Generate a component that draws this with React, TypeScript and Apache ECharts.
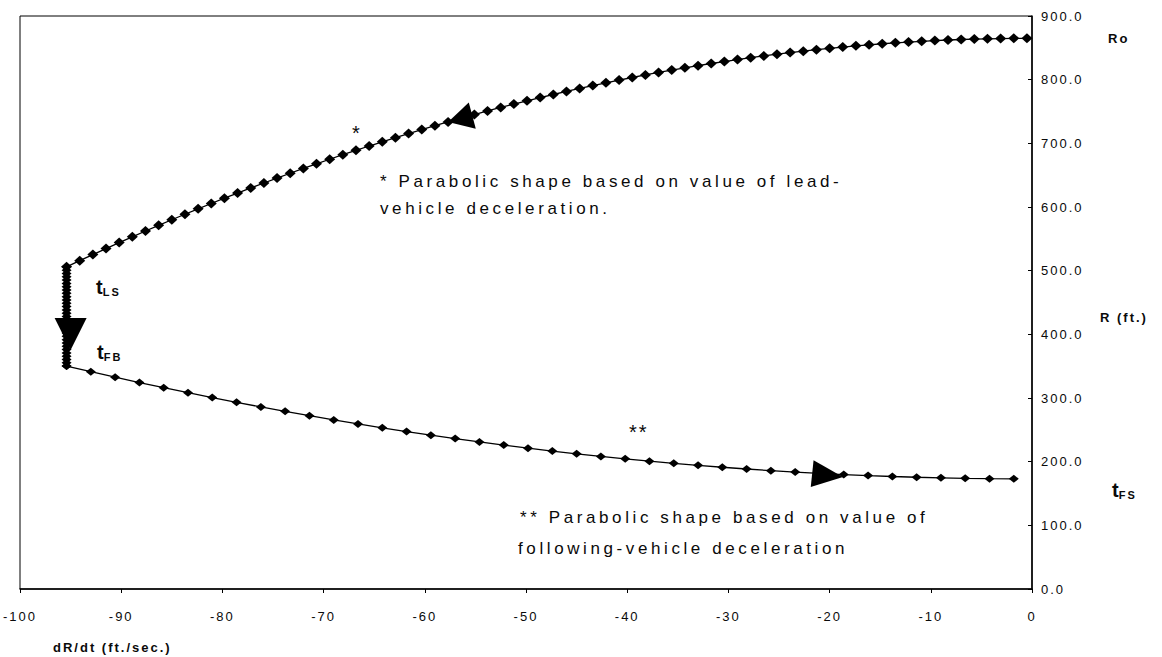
import React, { useEffect, useRef } from "react";
import * as echarts from "echarts";

const W = 1162;
const H = 657;

// Relative velocity dR/dt (ft./sec.) and range R (ft.)
const leadX = [-95.4,-94.1,-92.8,-91.5,-90.2,-88.9,-87.6,-86.3,-85.0,-83.7,-82.4,-81.1,-79.8,-78.5,-77.2,-75.9,-74.6,-73.3,-72.0,-70.7,-69.4,-68.1,-66.8,-65.5,-64.2,-62.9,-61.6,-60.3,-59.0,-57.7,-56.4,-55.1,-53.8,-52.5,-51.2,-49.9,-48.6,-47.3,-46.0,-44.7,-43.4,-42.1,-40.8,-39.5,-38.2,-36.9,-35.6,-34.3,-33.0,-31.7,-30.4,-29.1,-27.8,-26.5,-25.2,-23.9,-22.6,-21.3,-20.0,-18.7,-17.4,-16.1,-14.8,-13.5,-12.2,-10.9,-9.6,-8.3,-7.0,-5.7,-4.4,-3.1,-1.8,-0.5];
const leadR = [506.0,515.7,525.3,534.7,544.1,553.2,562.3,571.2,580.0,588.6,597.2,605.5,613.8,621.9,629.9,637.7,645.5,653.0,660.5,667.8,675.0,682.1,689.0,695.8,702.4,708.9,715.3,721.6,727.7,733.7,739.5,745.2,750.8,756.3,761.6,766.8,771.8,776.7,781.5,786.2,790.7,795.1,799.3,803.4,807.4,811.3,815.0,818.6,822.0,825.4,828.5,831.6,834.5,837.3,840.0,842.5,844.8,847.1,849.2,851.2,853.1,854.8,856.4,857.8,859.1,860.3,861.4,862.3,863.1,863.7,864.2,864.6,864.9,865.0];

const stopX = -95.4;
const stopR = [506.0,500.8,495.6,490.4,485.2,480.0,474.8,469.6,464.4,459.2,454.0,448.8,443.6,438.4,433.2,428.0,422.8,417.6,412.4,407.2,402.0,396.8,391.6,386.4,381.2,376.0,370.8,365.6,360.4,355.2,350.1];

const followX = [-95.4,-93.0,-90.6,-88.2,-85.8,-83.4,-81.0,-78.6,-76.2,-73.8,-71.4,-69.0,-66.6,-64.2,-61.8,-59.4,-57.0,-54.6,-52.2,-49.8,-47.4,-45.0,-42.6,-40.2,-37.8,-35.4,-33.0,-30.6,-28.2,-25.8,-23.4,-21.0,-18.6,-16.2,-13.8,-11.4,-9.0,-6.6,-4.2,-1.8];
const followR = [350.1,341.3,332.7,324.3,316.2,308.3,300.6,293.2,286.0,279.0,272.2,265.6,259.3,253.2,247.3,241.6,236.2,231.0,226.0,221.2,216.7,212.4,208.3,204.4,200.8,197.4,194.2,191.2,188.5,185.9,183.7,181.6,179.7,178.1,176.7,175.5,174.6,173.8,173.3,173.1];

// Direction arrows (data coordinates)
const arrowX = [-56.5, -95.0, -20.2];
const arrowR = [738.5, 400.5, 178.6];

const X_MIN = -100;
const X_MAX = 0;
const X_STEP = 10;
const Y_MIN = 0;
const Y_MAX = 900;
const Y_STEP = 100;

const FONT = "'Liberation Sans', Arial, Helvetica, sans-serif";
const INK = "#0a0a0a";

const arrowStyle = [
  { rotate: 105, size: [27, 25] },
  { rotate: 180, size: [32, 32] },
  { rotate: -96, size: [27, 31] },
];

const pairs = (xs: number[], ys: number[]) => xs.map((x, i) => [x, ys[i]]);

const lineSeries = (name: string, data: number[][], extra: any = {}) => ({
  name,
  type: "line",
  data,
  symbol: "diamond",
  symbolSize: [10, 8],
  silent: true,
  lineStyle: { color: "#000", width: 1.3 },
  itemStyle: { color: "#000" },
  z: 3,
  ...extra,
});

const noteStyle = (text: string, size = 17, weight: any = "normal") => ({
  text,
  fontSize: size,
  fontFamily: FONT,
  fontWeight: weight,
  fill: INK,
  verticalAlign: "middle",
  align: "left",
});

const subLabel = (main: string, sub: string) => ({
  text: `{t|${main}}{s|${sub}}`,
  fontFamily: FONT,
  fill: INK,
  verticalAlign: "middle",
  align: "left",
  rich: {
    t: { fontSize: 20, fontWeight: "bold", fontFamily: FONT, fill: INK, verticalAlign: "bottom", lineHeight: 22 },
    s: { fontSize: 11, fontWeight: "bold", fontFamily: FONT, fill: INK, verticalAlign: "bottom", lineHeight: 14 },
  },
});

const option: any = {
  animation: false,
  backgroundColor: "#fff",
  grid: {
    left: 20,
    right: 130,
    top: 16,
    bottom: 68,
    show: true,
    borderColor: "#000",
    borderWidth: 1,
    backgroundColor: "transparent",
  },
  xAxis: {
    type: "value",
    min: X_MIN,
    max: X_MAX,
    interval: X_STEP,
    position: "bottom",
    axisLine: { show: true, lineStyle: { color: "#000", width: 1.5 } },
    axisTick: { show: true, length: 4, lineStyle: { color: "#000" } },
    axisLabel: { fontSize: 13, color: INK, margin: 21, fontFamily: FONT },
    splitLine: { show: false },
  },
  yAxis: {
    type: "value",
    min: Y_MIN,
    max: Y_MAX,
    interval: Y_STEP,
    position: "right",
    axisLine: { show: true, onZero: false, lineStyle: { color: "#000", width: 1.5 } },
    axisTick: { show: true, inside: true, length: 4, lineStyle: { color: "#000" } },
    axisLabel: {
      fontSize: 13,
      color: INK,
      margin: 9,
      fontFamily: FONT,
      formatter: (v: number) => v.toFixed(1),
    },
    splitLine: { show: false },
  },
  series: [
    lineSeries("lead", pairs(leadX, leadR), {
      symbolSize: [11, 10],
      markPoint: {
        silent: true,
        label: { show: false },
        itemStyle: { color: "#000" },
        data: arrowX.map((x, i) => ({
          coord: [x, arrowR[i]],
          symbol: "triangle",
          symbolSize: arrowStyle[i].size,
          symbolRotate: arrowStyle[i].rotate,
          itemStyle: { color: "#000" },
        })),
      },
    }),
    lineSeries("stop", stopR.map((r) => [stopX, r]), { symbolSize: [10, 8] }),
    lineSeries("follow", pairs(followX, followR)),
  ],
  graphic: [
    { type: "text", x: 352, y: 133, style: noteStyle("*", 20) },
    { type: "text", x: 380, y: 181, style: noteStyle("* Parabolic shape based on value of lead-") },
    { type: "text", x: 380, y: 208, style: noteStyle("vehicle deceleration.") },
    { type: "text", x: 629, y: 432, style: noteStyle("**", 20) },
    { type: "text", x: 520, y: 517, style: noteStyle("** Parabolic shape based on value of") },
    { type: "text", x: 518, y: 548, style: noteStyle("following-vehicle deceleration") },
    { type: "text", x: 96, y: 286, style: subLabel("t", "LS") },
    { type: "text", x: 97, y: 351, style: subLabel("t", "FB") },
    { type: "text", x: 1112, y: 489, style: subLabel("t", "FS") },
    { type: "text", x: 1108, y: 38, style: noteStyle("Ro", 13, "bold") },
    { type: "text", x: 1100, y: 317, style: noteStyle("R (ft.)", 13, "bold") },
    { type: "text", x: 53, y: 647, style: noteStyle("dR/dt (ft./sec.)", 13, "bold") },
  ],
};

const css = `
.rk text { letter-spacing: 2px; }
.rk text[style*="17px"] { letter-spacing: 3.6px; }
`;

export default function App() {
  const ref = useRef<HTMLDivElement>(null);
  useEffect(() => {
    if (!ref.current) return;
    const chart = echarts.init(ref.current, null, { renderer: "svg" });
    chart.setOption(option);
    return () => chart.dispose();
  }, []);
  return (
    <div style={{ position: "fixed", left: 0, top: 0, width: W, height: H, background: "#fff" }}>
      <style>{css}</style>
      <div ref={ref} className="rk" style={{ width: W, height: H }} />
    </div>
  );
}
